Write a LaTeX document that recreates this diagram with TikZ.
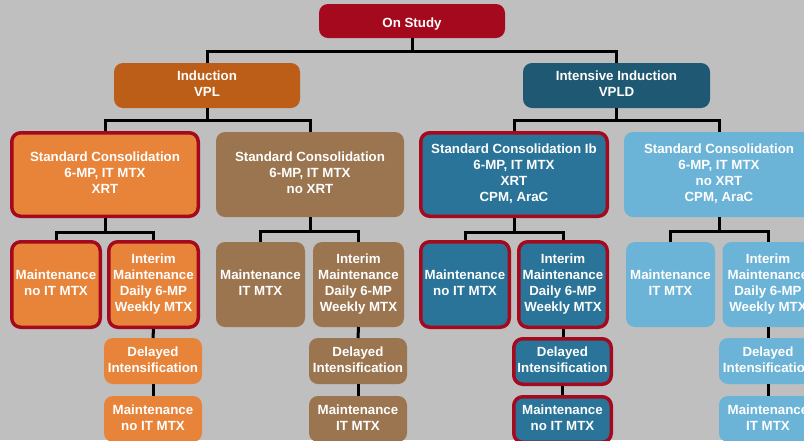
\documentclass[tikz,border=0pt]{standalone}
\usepackage{fontspec}
\setmainfont{Liberation Sans}
\begin{document}
\definecolor{bg}{HTML}{BFBFBF}
\definecolor{studyred}{HTML}{A5091D}
\definecolor{indorange}{HTML}{BC5E17}
\definecolor{indblue}{HTML}{1F5872}
\definecolor{orangebox}{HTML}{E8833A}
\definecolor{brownbox}{HTML}{9B7550}
\definecolor{tealbox}{HTML}{297498}
\definecolor{lightbox}{HTML}{6BB3D7}
% struts that give every box the same first-line height and last-line depth
\newcommand{\topstrut}{\rule{0pt}{16pt}}
\newcommand{\botstrut}{\rule[-3pt]{0pt}{3pt}}
\begin{tikzpicture}[x=1pt,y=-1pt,
  box/.style={rectangle, rounded corners=9pt, text=white, align=center,
    inner sep=0pt, outer sep=0pt,
    font=\fontsize{13.3}{16}\selectfont\bfseries,
    execute at begin node=\topstrut, execute at end node=\botstrut},
  sz/.style 2 args={minimum width=#1pt, minimum height=#2pt},
  hl/.style={draw=studyred, line width=3.5pt, outer sep=1.75pt},
  link/.style={draw=black, line width=3pt}]

\fill[bg] (0,0) rectangle (804,440);
\clip (0,0) rectangle (804,440);
\useasboundingbox (0,0) rectangle (804,440);

% top level
\node[box, fill=studyred, sz={186}{34}] (study) at (412,21) {On Study};
\node[box, fill=indorange, sz={186}{45}] (ind) at (207,85.5) {Induction\\VPL};
\node[box, fill=indblue, sz={187}{45}] (iind) at (616.5,85.5) {Intensive Induction\\VPLD};

% consolidation
\node[box, hl, fill=orangebox, sz={186.5}{83.5}] (sca) at (105,174.5)
  {Standard Consolidation\\6-MP, IT MTX\\XRT};
\node[box, fill=brownbox, sz={188}{85}] (scb) at (310,174.5)
  {Standard Consolidation\\6-MP, IT MTX\\no XRT};
\node[box, hl, fill=tealbox, sz={186.5}{83.5}] (scc) at (514,174.5)
  {Standard Consolidation Ib\\6-MP, IT MTX\\XRT\\CPM, AraC};
\node[box, fill=lightbox, sz={190}{85}] (scd) at (719,174.5)
  {Standard Consolidation\\6-MP, IT MTX\\no XRT\\CPM, AraC};

% maintenance / interim maintenance
\node[box, hl, fill=orangebox, sz={88.5}{85.5}] (ma) at (56,284.5) {Maintenance\\no IT MTX};
\node[box, hl, fill=orangebox, sz={89.5}{85.5}] (ia) at (153.5,284.5) {Interim\\Maintenance\\Daily 6-MP\\Weekly MTX};
\node[box, fill=brownbox, sz={89}{85}] (mb) at (260.5,284.5) {Maintenance\\IT MTX};
\node[box, fill=brownbox, sz={91}{85}] (ib) at (358.5,284.5) {Interim\\Maintenance\\Daily 6-MP\\Weekly MTX};
\node[box, hl, fill=tealbox, sz={88.5}{85.5}] (mc) at (465,284.5) {Maintenance\\no IT MTX};
\node[box, hl, fill=tealbox, sz={88.5}{85.5}] (ic) at (563,284.5) {Interim\\Maintenance\\Daily 6-MP\\Weekly MTX};
\node[box, fill=lightbox, sz={89}{85}] (md) at (670.5,284.5) {Maintenance\\IT MTX};
\node[box, fill=lightbox, sz={91}{85}] (id) at (768,284.5) {Interim\\Maintenance\\Daily 6-MP\\Weekly MTX};

% delayed intensification
\node[box, fill=orangebox, sz={98}{46}] (da) at (153,361) {Delayed\\Intensification};
\node[box, fill=brownbox, sz={98}{46}] (db) at (358,361) {Delayed\\Intensification};
\node[box, hl, fill=tealbox, sz={97.5}{45.5}] (dc) at (562.5,361.5) {Delayed\\Intensification};
\node[box, fill=lightbox, sz={98}{46}] (dd) at (768,361) {Delayed\\Intensification};

% final maintenance
\node[box, fill=orangebox, sz={98}{46}] (fa) at (153,419) {Maintenance\\no IT MTX};
\node[box, fill=brownbox, sz={98}{46}] (fb) at (358,419) {Maintenance\\IT MTX};
\node[box, hl, fill=tealbox, sz={97.5}{45.5}] (fc) at (562.5,419.5) {Maintenance\\no IT MTX};
\node[box, fill=lightbox, sz={98}{46}] (fd) at (768,419) {Maintenance\\IT MTX};

% connectors
\draw[link] (study.south) -- ++(0,13) -| (ind.north);
\draw[link] (study.south) -- ++(0,13) -| (iind.north);
\draw[link] (ind.south) -- ++(0,12) -| (sca.north);
\draw[link] (ind.south) -- ++(0,12) -| (scb.north);
\draw[link] (iind.south) -- ++(0,12) -| (scc.north);
\draw[link] (iind.south) -- ++(0,12) -| (scd.north);
\draw[link] (sca.south) -- ++(0,14) -| (ma.north);
\draw[link] (sca.south) -- ++(0,14) -| (ia.north);
\draw[link] (scb.south) -- ++(0,14) -| (mb.north);
\draw[link] (scb.south) -- ++(0,14) -| (ib.north);
\draw[link] (scc.south) -- ++(0,14) -| (mc.north);
\draw[link] (scc.south) -- ++(0,14) -| (ic.north);
\draw[link] (scd.south) -- ++(0,14) -| (md.north);
\draw[link] (scd.south) -- ++(0,14) -| (id.north);
\draw[link] (ia.south) -- (da.north);
\draw[link] (ib.south) -- (db.north);
\draw[link] (ic.south) -- (ic.south |- dc.north);
\draw[link] (id.south) -- (dd.north);
\draw[link] (da.south) -- (fa.north);
\draw[link] (db.south) -- (fb.north);
\draw[link] (dc.south) -- (fc.north);
\draw[link] (dd.south) -- (fd.north);
\end{tikzpicture}
\end{document}
